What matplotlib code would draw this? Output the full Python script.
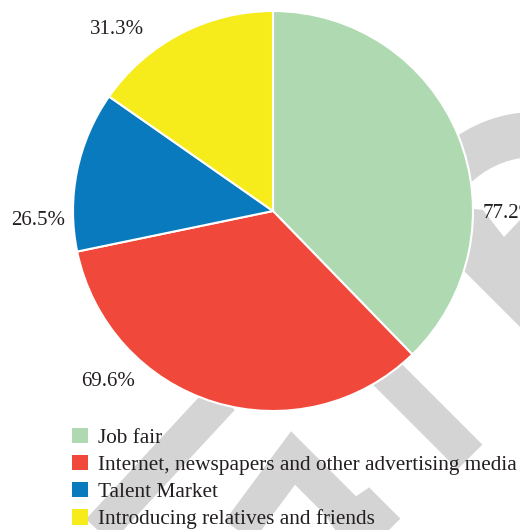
import matplotlib.pyplot as plt
from matplotlib.patches import Patch, Polygon, Wedge

plt.rcParams['font.family'] = ['Liberation Serif', 'DejaVu Serif']

categories = ['Job fair',
              'Internet, newspapers and other advertising media',
              'Talent Market',
              'Introducing relatives and friends']
values = [77.2, 69.6, 26.5, 31.3]
value_labels = ['77.2%', '69.6%', '26.5%', '31.3%']
colors = ['#aed9b1', '#f0483a', '#0a7abf', '#f7ec1b']

# where each value label sits, in pie units (radius 1)
label_pos = [(1.05, -0.015, 'left'), (-0.825, -0.85, 'center'),
             (-1.175, -0.05, 'center'), (-0.78, 0.905, 'center')]

W, H = 520, 530
fig = plt.figure(figsize=(W / 100, H / 100), dpi=100)

# grey watermark strokes behind the chart, in pixel coords
bg = fig.add_axes([0, 0, 1, 1], zorder=0)
bg.set_xlim(0, W)
bg.set_ylim(H, 0)
bg.axis('off')
grey = '#d4d4d4'
px = 72 / 100
for xs, ys in [((222, 95), (398, 535)),
               ((236, 293, 370), (535, 458, 535)),
               ((385, 470), (372, 457)),
               ((330, 367, 440), (535, 510, 583))]:
    bg.plot(xs, ys, color=grey, lw=35 * px, solid_capstyle='butt', solid_joinstyle='miter')
bg.add_patch(Polygon([(440, 205), (483, 210), (504, 237), (520, 220),
                      (520, 327), (466, 273), (440, 250)], closed=True, color=grey, lw=0))
# Wedge in a y-flipped axes: angles measured downward, so negate
bg.add_patch(Wedge((535, 250), 138, -140, -60, width=45, color=grey, lw=0))

ax = fig.add_axes([73 / W, (H - 411) / H, 400 / W, 400 / H], zorder=1)
ax.pie(values, colors=colors, startangle=90, counterclock=False,
       wedgeprops=dict(edgecolor='white', linewidth=1.5))
ax.set_xlim(-1, 1)
ax.set_ylim(-1, 1)
ax.set_aspect('equal')
ax.set_clip_on(False)

for txt, (x, y, ha) in zip(value_labels, label_pos):
    ax.text(x, y, txt, ha=ha, va='center', fontsize=15, color='#231f20', clip_on=False)

handles = [Patch(facecolor=c, edgecolor='none') for c in colors]
fig.legend(handles, categories, loc='upper left',
           bbox_to_anchor=(72 / W, 1 - 427.5 / H), frameon=False,
           fontsize=15.3, handlelength=0.75, handleheight=0.75,
           handletextpad=0.45, labelspacing=0.33, borderpad=0, borderaxespad=0,
           labelcolor='#231f20')

fig.savefig('out.png', dpi=100, facecolor='white')
